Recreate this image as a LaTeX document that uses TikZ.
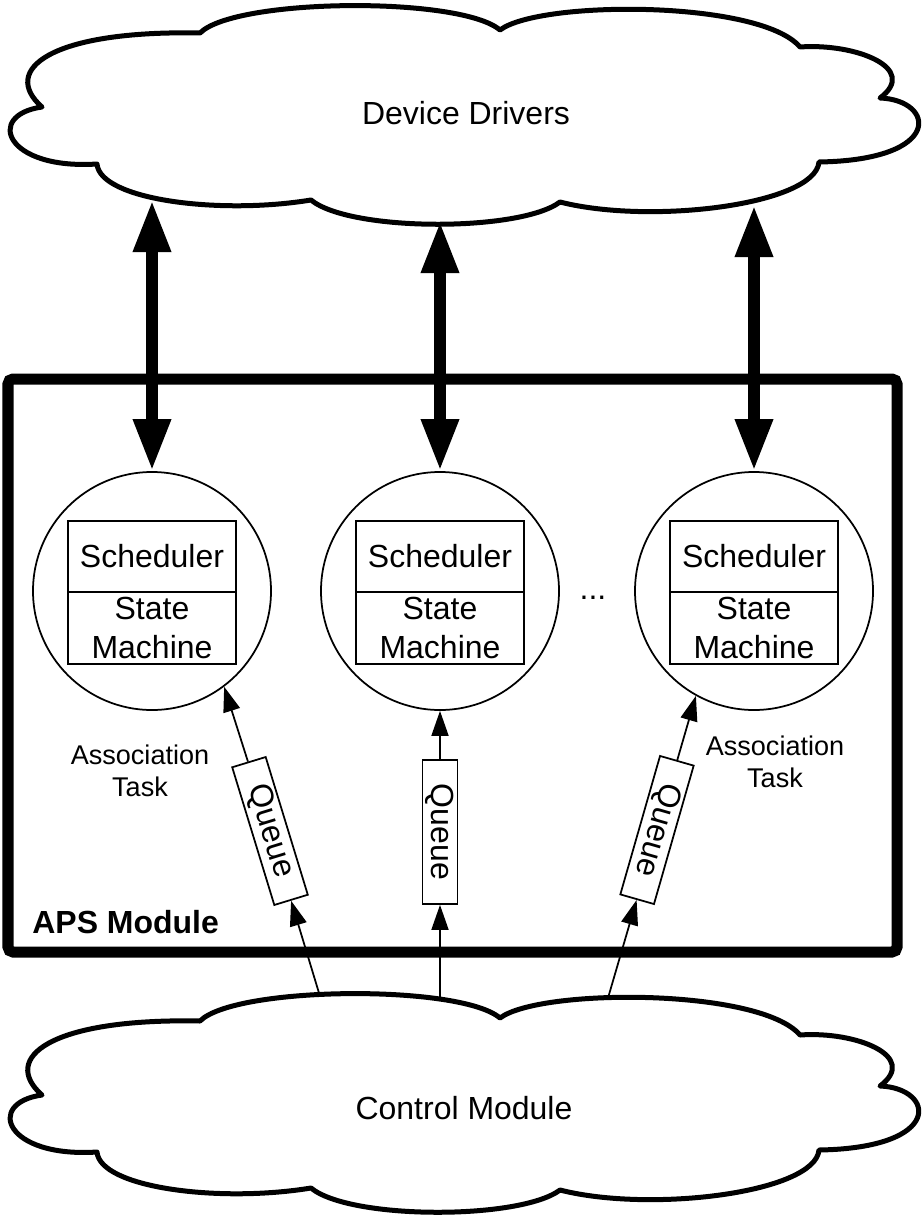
\documentclass[tikz,border=0pt]{standalone}
\usepackage{fontspec}
\setmainfont{Liberation Sans}
\usetikzlibrary{arrows.meta, calc}
\tikzset{
  lbl/.style={font=\fontsize{18.2pt}{22pt}\selectfont, inner sep=0pt},
  boldlbl/.style={font=\fontsize{18.2pt}{22pt}\selectfont\bfseries, inner sep=0pt},
  note/.style={font=\fontsize{15.4pt}{18pt}\selectfont, inner sep=0pt, align=center},
  cloudline/.style={line width=1mm, line join=round},
  frameline/.style={line width=2.2mm, rounded corners=1mm},
  task/.style={circle, draw, line width=0.35mm, minimum size=47.6mm, inner sep=0pt},
  taskpart/.style={lbl, rectangle, draw, line width=0.35mm, outer sep=0pt, minimum width=33.6mm, align=center},
  queuebox/.style={lbl, rectangle, draw, line width=0.35mm, minimum width=28.8mm, minimum height=7mm},
  bigarrow/.style={line width=2.4mm, >={Triangle[length=10.4mm, width=7mm]}, <->},
  qarrow/.style={line width=0.35mm, >={Triangle[length=5mm, width=3.4mm]}, ->},
  cloudoutline/.pic={
    \draw[cloudline] (42,107) .. controls (0,70) and (50,30) .. (200,33)
      .. controls (235,-2) and (460,-4) .. (500,30)
      .. controls (540,0) and (760,0) .. (800,47)
      .. controls (855,43) and (920,68) .. (880,98)
      .. controls (935,100) and (945,160) .. (819,162)
      .. controls (815,205) and (650,225) .. (560,202)
      .. controls (520,232) and (350,232) .. (311,200)
      .. controls (220,215) and (100,200) .. (97,164)
      .. controls (5,170) and (-15,115) .. (42,107) -- cycle;
  }
}
\begin{document}
\begin{tikzpicture}[x=0.2mm, y=-0.2mm]
  \useasboundingbox (0,0) rectangle (924,1217);
  % the two clouds
  \pic at (0,0) {cloudoutline};
  \pic at (0,988) {cloudoutline};
  \node[lbl] (drivers) at (466,113) {Device Drivers};
  \node[lbl] (control) at (464,1108) {Control Module};
  % APS module frame
  \draw[frameline] (8,379) rectangle (897,952);
  \node[boldlbl, anchor=west] (aps) at (32,922) {APS Module};
  % association tasks
  \foreach \i/\x in {1/152, 2/440, 3/754}{
    \node[task] (task\i) at (\x,591) {};
    \node[taskpart, minimum height=14.2mm] (sched\i) at (\x,556.5) {Scheduler};
    \node[taskpart, minimum height=14.4mm, anchor=north] (sm\i) at (sched\i.south) {State\\Machine};
  }
  \node[lbl] (dots) at (593,598) {...};
  \node[note] (assoc1) at (140,771) {Association\\Task};
  \node[note] (assoc3) at (775,762) {Association\\Task};
  % links to the device drivers
  \coordinate (dd1) at (152,200);
  \coordinate (dd2) at (440,221);
  \coordinate (dd3) at (754,205);
  \foreach \i in {1,2,3}{\draw[bigarrow] (dd\i) -- (task\i.north);}
  % queues from the control module
  \coordinate (cm1) at (319,993);
  \coordinate (cm2) at (440,1001);
  \coordinate (cm3) at (608,998);
  \node[queuebox, rotate=-73] (queue1) at (270,831) {Queue};
  \node[queuebox, rotate=-90] (queue2) at (440,832) {Queue};
  \node[queuebox, rotate=-106] (queue3) at (657,830) {Queue};
  \draw[qarrow] (cm1) -- (queue1);
  \draw[qarrow] (queue1) -- (task1.-53);
  \draw[qarrow] (cm2) -- (queue2);
  \draw[qarrow] (queue2) -- (task2);
  \draw[qarrow] (cm3) -- (queue3);
  \draw[qarrow] (queue3) -- (task3.-119);
\end{tikzpicture}
\end{document}
